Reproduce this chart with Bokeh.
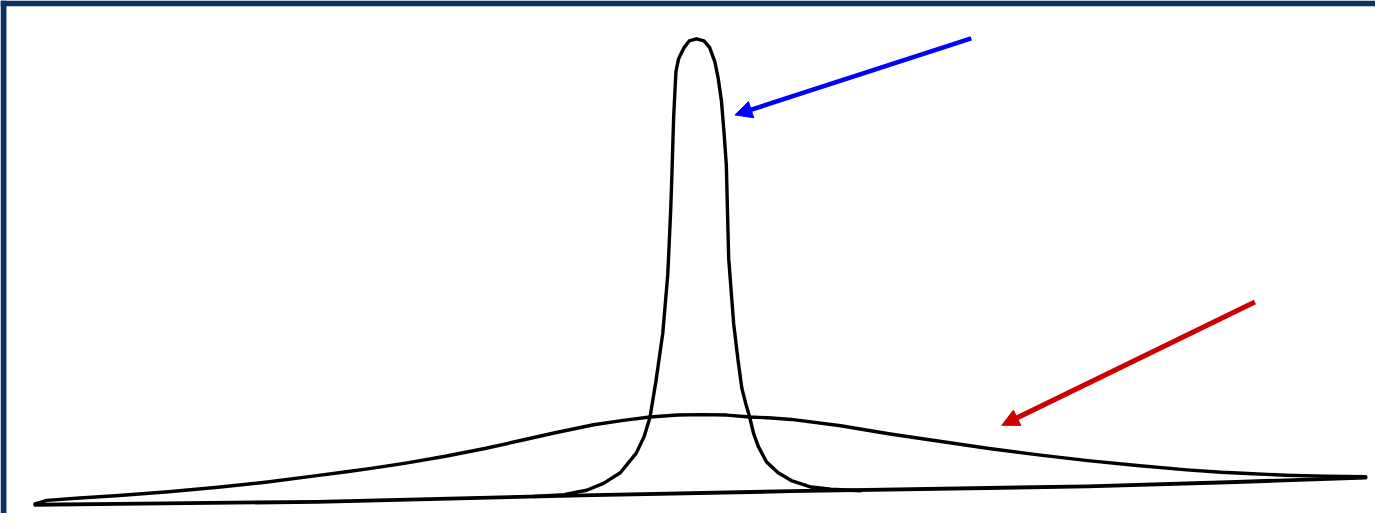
from bokeh.plotting import figure
from bokeh.models import Range1d, Arrow, NormalHead, BoxAnnotation
from bokeh.embed import file_html
from bokeh.resources import INLINE

# Values (horizontal position, vertical position; top = small)
baseline_x = [35, 120, 320, 600, 800, 1100, 1250, 1381]
baseline_y = [520, 519, 517, 510, 506, 501, 496.5, 492]

wide_x = [35, 47, 80, 120, 170, 220, 270, 320, 350, 375, 410, 450, 490, 525,
          560, 600, 630, 657, 685, 710, 735, 758, 780, 800, 850, 900, 950,
          1000, 1050, 1100, 1150, 1200, 1235, 1267, 1300, 1340, 1381]
wide_y = [519, 515.5, 513, 510.5, 506.5, 502, 496.5, 490, 486, 482.5, 477, 470, 462, 454,
          446, 437.5, 433, 429.5, 427.5, 427, 427.5, 429.5, 430.5, 432, 438.5, 447, 454.5,
          462, 468.5, 474.5, 479.5, 484, 486.5, 488, 489.5, 490.5, 491]

narrow_x = [540, 570, 593, 610, 627, 643, 651, 657, 663, 670, 675, 676.5, 678, 679,
            681, 682.2, 683.3, 686, 691.7, 696.7, 704, 711.7, 717.3, 722.7, 726,
            729.3, 732, 734.3, 735.5, 736.7, 741.7, 746, 750, 754, 757.7, 762,
            766.7, 775, 786.7, 800, 820, 840, 870]
narrow_y = [511.5, 509.5, 505, 498, 487, 467, 450, 430, 393, 343, 283, 250, 216, 186.7,
            120, 95, 73.3, 60, 48.3, 41.7, 39.5, 41.7, 48.3, 63.3, 80,
            103.3, 136.7, 170, 220, 266.7, 333.3, 370, 400, 416, 429, 447,
            460, 476, 487, 495, 501.7, 504, 505.5]

# arrows: start x, start y, tip x, tip y
blue_arrow = [982, 39, 743, 118]
red_arrow = [1269, 311, 1013, 438]

# reference frame size
REF_W, REF_H = 1391, 529

p = figure(width=1375, height=513, output_backend="svg", toolbar_location=None,
           x_range=Range1d(0, REF_W), y_range=Range1d(REF_H, 0),
           min_border=0, background_fill_color="white", border_fill_color="white")
p.xaxis.visible = False
p.yaxis.visible = False
p.grid.visible = False
p.outline_line_color = None

# dark navy frame edge at top and left
p.add_layout(BoxAnnotation(bottom=6, fill_color="#0c3263", fill_alpha=1, line_color=None))
p.add_layout(BoxAnnotation(right=6, fill_color="#0c3263", fill_alpha=1, line_color=None))

p.line(baseline_x, baseline_y, line_color="black", line_width=3.8, line_join="round", line_cap="round")
p.line(wide_x, wide_y, line_color="black", line_width=3.4, line_join="round", line_cap="round")
p.line(narrow_x, narrow_y, line_color="black", line_width=3.4, line_join="round", line_cap="round")

p.add_layout(Arrow(end=NormalHead(size=17, fill_color="#0000ff", line_color="#0000ff", line_width=1),
                   x_start=blue_arrow[0], y_start=blue_arrow[1],
                   x_end=blue_arrow[2], y_end=blue_arrow[3],
                   line_color="#0000ff", line_width=4.5))
p.add_layout(Arrow(end=NormalHead(size=17, fill_color="#cc0000", line_color="#cc0000", line_width=1),
                   x_start=red_arrow[0], y_start=red_arrow[1],
                   x_end=red_arrow[2], y_end=red_arrow[3],
                   line_color="#cc0000", line_width=5))

open("out.html", "w").write(file_html(p, INLINE))
